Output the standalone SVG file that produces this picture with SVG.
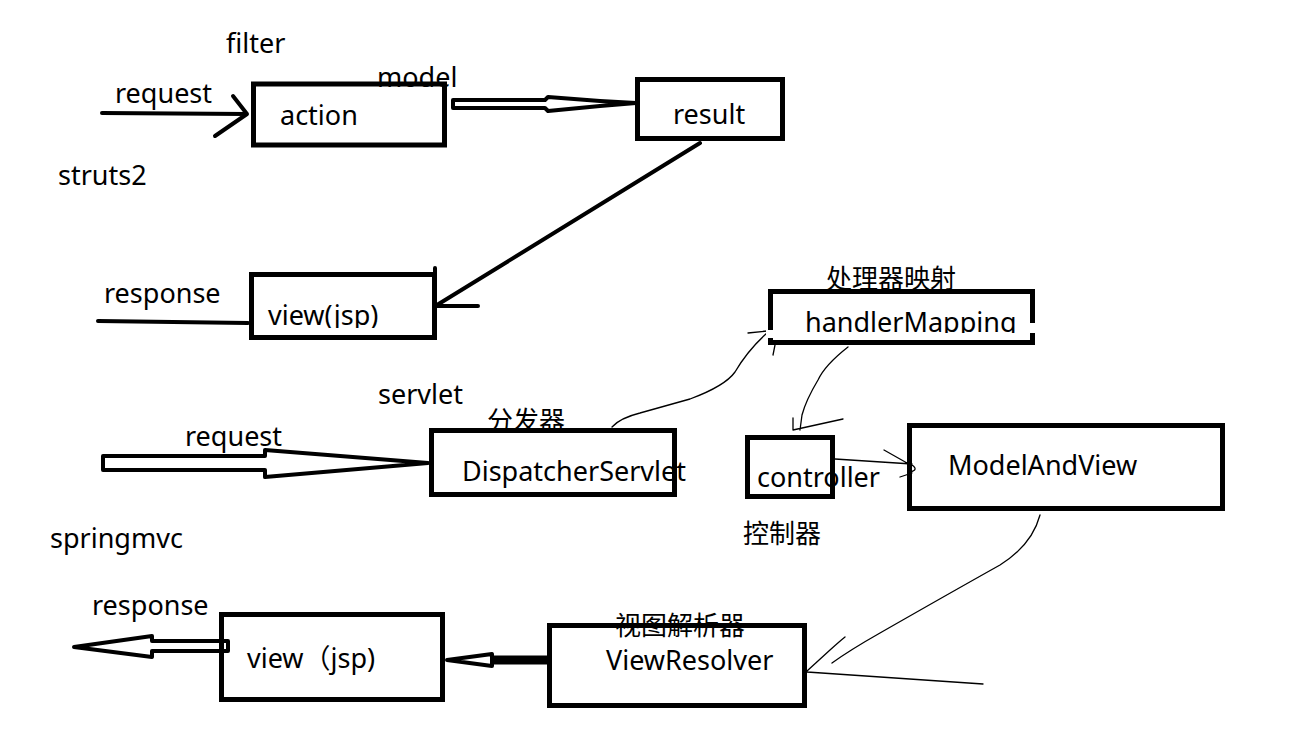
<svg xmlns="http://www.w3.org/2000/svg" width="1300" height="740" viewBox="0 0 1300 740">
<style>
text{font-family:"Noto Sans","Noto Sans CJK SC",sans-serif;font-size:27px;fill:#000}
.cjk{font-size:26px}
.box{fill:none;stroke:#000;stroke-width:5}
.thick{fill:none;stroke:#000;stroke-width:4;stroke-linecap:round;stroke-linejoin:round}
.hollow{fill:#fff;stroke:#000;stroke-width:4;stroke-linejoin:round}
.thin{fill:none;stroke:#000;stroke-width:1.3;stroke-linecap:round;stroke-linejoin:round}
</style>
<defs>
<clipPath id="clipView"><rect x="240" y="280" width="200" height="48"/></clipPath>
<clipPath id="clipHM"><rect x="780" y="300" width="250" height="33"/></clipPath>
</defs>
<rect width="1300" height="740" fill="#fff"/>

<g id="labels">
<text x="226" y="53">filter</text>
<text x="58" y="185">struts2</text>
<text x="378" y="404">servlet</text>
<text x="50" y="548">springmvc</text>
</g>

<g id="connectors">
<path class="thick" d="M102,113 L247,114 M233,96 L247,114 L215,136"/>
<polygon points="453,100 545,100 548,97 600,101 636,103 600,106 548,111 545,108 453,108" fill="#fff" stroke="#000" stroke-width="4" stroke-linejoin="round"/>
<path class="thick" d="M700,143 L437,305 M437,306 L478,306 M435,268 L435,276"/>
<path class="thick" d="M98,321 L248,323"/>
<polygon class="hollow" points="103,456 265,456 265,450 428,463 265,477 265,470 103,470"/>
<path class="thin" d="M612,427 Q620,418 640,413 L690,399 Q725,386 735,372 Q748,350 767,333 M748,333 L767,331 M775,345 L773,355"/>
<path class="thin" d="M848,347 Q825,365 818,380 Q806,400 802,415 L800,430 M793,418 L793,430 L843,419"/>
<path class="thin" d="M835,459 L912,464 M884,450 L907,463 M912,465 Q919,470 910,472 M900,477 L912,473"/>
<path class="thin" d="M1040,515 Q1032,545 1000,565 Q950,593 880,633 Q850,650 832,663 M807,671 L830,650 Q840,641 845,637 M807,672 L983,684"/>
<polygon class="hollow" points="228,641 152,641 152,636 74,647 152,657 152,651 228,651"/>
<path d="M492,660 L547,660" stroke="#000" stroke-width="9" fill="none"/>
<polygon class="hollow" points="447,660 492,654 492,666"/>
</g>

<g id="action">
<rect class="box" x="253.5" y="84" width="191" height="61"/>
<text x="115" y="103">request</text>
<text x="280" y="125">action</text>
<text x="377" y="87">model</text>
</g>

<g id="result">
<rect class="box" x="637.5" y="79.5" width="145" height="59"/>
<text x="673" y="124">result</text>
</g>

<g id="view-top">
<rect class="box" x="251.5" y="274.5" width="183" height="63"/>
<text x="104" y="303">response</text>
<text x="268" y="325" clip-path="url(#clipView)">view(jsp)</text>
</g>

<g id="dispatcher">
<rect class="box" x="431.5" y="430.5" width="243" height="64"/>
<text x="185" y="446">request</text>
<text class="cjk" x="487" y="430">分发器</text>
<text x="462" y="481">DispatcherServlet</text>
</g>

<g id="handlerMapping">
<rect class="box" x="770.5" y="291.5" width="262" height="51"/>
<rect x="766" y="330" width="9" height="8" fill="#fff"/>
<rect x="1028" y="323" width="9" height="10" fill="#fff"/>
<text class="cjk" x="826" y="288">处理器映射</text>
<text x="805" y="332" clip-path="url(#clipHM)">handlerMapping</text>
</g>

<g id="controller">
<rect class="box" x="747.5" y="437.5" width="85" height="59"/>
<text x="757" y="487">controller</text>
<text class="cjk" x="743" y="543">控制器</text>
</g>

<g id="modelAndView">
<rect class="box" x="909.5" y="425.5" width="313" height="83"/>
<text x="948" y="475">ModelAndView</text>
</g>

<g id="view-bottom">
<rect class="box" x="221.5" y="614.5" width="221" height="85"/>
<text x="92" y="615">response</text>
<text x="247" y="668">view（jsp)</text>
</g>

<g id="viewResolver">
<rect class="box" x="549.5" y="625.5" width="255" height="80"/>
<text class="cjk" x="615" y="635">视图解析器</text>
<text x="606" y="670">ViewResolver</text>
</g>
</svg>
